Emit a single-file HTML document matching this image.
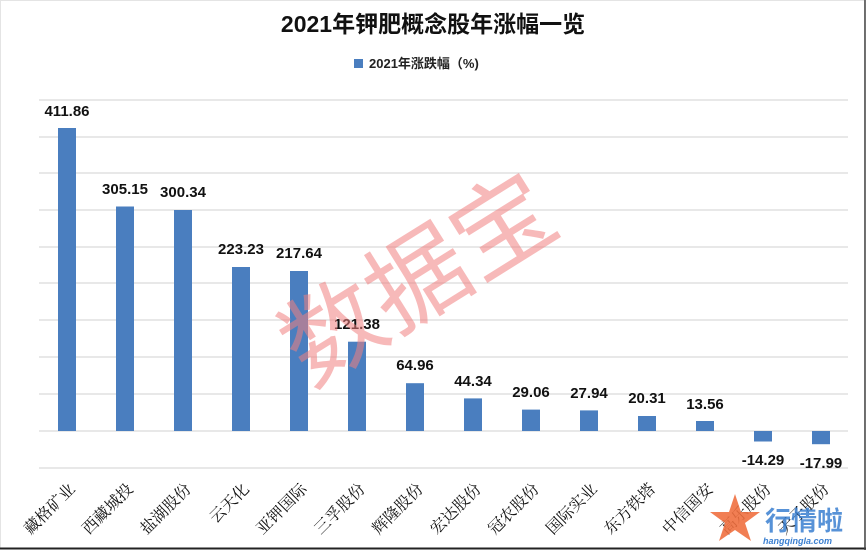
<!DOCTYPE html>
<html><head><meta charset="utf-8"><style>html,body{margin:0;padding:0;background:#fff}svg{display:block}</style></head><body>
<svg width="866" height="550" xmlns="http://www.w3.org/2000/svg">
<rect x="0" y="0" width="866" height="550" fill="#fff"/>
<rect x="0.5" y="0.5" width="864" height="548" fill="none" stroke="#e4e4e4"/>
<line x1="0" y1="548.5" x2="866" y2="548.5" stroke="#222" stroke-width="2"/>
<line x1="865" y1="0" x2="865" y2="550" stroke="#444" stroke-width="1.5"/>
<text x="433" y="32" text-anchor="middle" font-family="Liberation Sans, Noto Sans CJK SC, sans-serif" font-weight="bold" font-size="23" fill="#111">2021年钾肥概念股年涨幅一览</text>
<rect x="354" y="59" width="9" height="9" fill="#4a7ebf"/>
<text x="369" y="68" font-family="Liberation Sans, Noto Sans CJK SC, sans-serif" font-weight="bold" font-size="13" fill="#222">2021年涨跌幅（%)</text>
<g stroke="#d9d9d9" stroke-width="1.2">
<line x1="39" y1="100" x2="848" y2="100"/><line x1="39" y1="137" x2="848" y2="137"/><line x1="39" y1="173" x2="848" y2="173"/><line x1="39" y1="210" x2="848" y2="210"/><line x1="39" y1="247" x2="848" y2="247"/><line x1="39" y1="283" x2="848" y2="283"/><line x1="39" y1="320" x2="848" y2="320"/><line x1="39" y1="357" x2="848" y2="357"/><line x1="39" y1="394" x2="848" y2="394"/><line x1="39" y1="431" x2="848" y2="431"/><line x1="39" y1="468" x2="848" y2="468"/>
</g>
<g fill="#4a7ebf">
<rect x="58" y="128" width="18" height="303"/>
<rect x="116" y="206.5" width="18" height="224.5"/>
<rect x="174" y="210" width="18" height="221"/>
<rect x="232" y="267" width="18" height="164"/>
<rect x="290" y="271" width="18" height="160"/>
<rect x="348" y="341.7" width="18" height="89.3"/>
<rect x="406" y="383.2" width="18" height="47.8"/>
<rect x="464" y="398.4" width="18" height="32.6"/>
<rect x="522" y="409.6" width="18" height="21.4"/>
<rect x="580" y="410.4" width="18" height="20.6"/>
<rect x="638" y="416" width="18" height="15"/>
<rect x="696" y="421" width="18" height="10"/>
<rect x="754" y="431" width="18" height="10.5"/>
<rect x="812" y="431" width="18" height="13.2"/>
</g>
<g font-family="Liberation Sans, sans-serif" font-weight="bold" font-size="15" fill="#111" text-anchor="middle">
<text x="67" y="116">411.86</text><text x="125" y="194">305.15</text><text x="183" y="197">300.34</text><text x="241" y="254">223.23</text><text x="299" y="258">217.64</text><text x="357" y="329">121.38</text><text x="415" y="370">64.96</text><text x="473" y="386">44.34</text><text x="531" y="397">29.06</text><text x="589" y="398">27.94</text><text x="647" y="403">20.31</text><text x="705" y="409">13.56</text><text x="763" y="465">-14.29</text><text x="821" y="468">-17.99</text>
</g>
<text x="425" y="312" text-anchor="middle" font-family="Noto Sans CJK SC, sans-serif" font-size="100" fill="#f08080" fill-opacity="0.55" transform="rotate(-32 425 290)">数据宝</text>
<g font-family="Noto Serif CJK SC, serif" font-size="16" fill="#111" text-anchor="end">
<text transform="translate(76,490) rotate(-45)">藏格矿业</text>
<text transform="translate(134,490) rotate(-45)">西藏城投</text>
<text transform="translate(192,490) rotate(-45)">盐湖股份</text>
<text transform="translate(250,490) rotate(-45)">云天化</text>
<text transform="translate(308,490) rotate(-45)">亚钾国际</text>
<text transform="translate(366,490) rotate(-45)">三孚股份</text>
<text transform="translate(424,490) rotate(-45)">辉隆股份</text>
<text transform="translate(482,490) rotate(-45)">宏达股份</text>
<text transform="translate(540,490) rotate(-45)">冠农股份</text>
<text transform="translate(598,490) rotate(-45)">国际实业</text>
<text transform="translate(656,490) rotate(-45)">东方铁塔</text>
<text transform="translate(714,490) rotate(-45)">中信国安</text>
<text transform="translate(772,490) rotate(-45)">高乐股份</text>
<text transform="translate(830,490) rotate(-45)">天子股份</text>
</g>
<polygon points="735,494 741,512 760,512 745,523 751,541 735,530 719,541 725,523 710,512 729,512" fill="#f07040" opacity="0.9"/>
<text x="765" y="530" font-family="Noto Sans CJK SC, sans-serif" font-weight="bold" font-size="26" fill="#3a7fd0" fill-opacity="0.85">行情啦</text>
<text x="763" y="544" font-family="Liberation Sans, sans-serif" font-style="italic" font-weight="bold" font-size="9" fill="#3a7fd0">hangqingla.com</text>
</svg>
</body></html>
